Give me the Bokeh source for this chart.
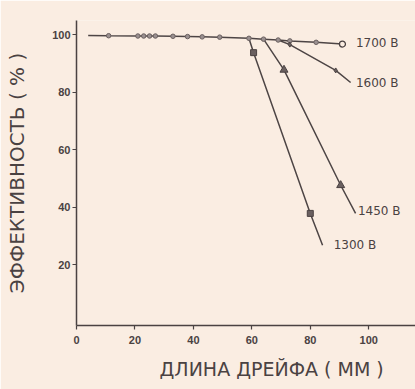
from bokeh.plotting import figure
from bokeh.models import Label, FixedTicker, Range1d, Title
from bokeh.embed import file_html
from bokeh.resources import INLINE

# Drift length (mm) and efficiency (%)
x_1700 = [4, 11, 21, 23, 25, 27, 33, 38, 43, 49, 59, 64, 69, 73, 82, 91]
y_1700 = [99.8, 99.7, 99.6, 99.6, 99.6, 99.6, 99.5, 99.4, 99.3, 99.2, 98.8, 98.5, 98.2, 97.9, 97.4, 96.8]
x_1600 = [69, 73, 88.7, 93.8]
y_1600 = [98.2, 96.6, 87.6, 83.4]
x_1450 = [64, 71, 90.4, 95.5]
y_1450 = [98.5, 87.8, 47.6, 37.8]
x_1300 = [59, 60.6, 80, 84.2]
y_1300 = [98.8, 93.8, 37.8, 26.7]

labels = ["1700 В", "1600 В", "1450 В", "1300 В"]
x_ticks = [0, 20, 40, 60, 80, 100]
y_ticks = [20, 40, 60, 80, 100]

BG = "#faede2"
INK = "#4a4242"
FONT = "Liberation Sans"
TFONT = "DejaVu Sans"

p = figure(width=415, height=389, output_backend="svg", toolbar_location=None,
           x_range=Range1d(0, 116.0), y_range=Range1d(-1.25, 105),
           min_border_left=76, min_border_right=0, min_border_top=20, min_border_bottom=64)
p.background_fill_color = BG
p.border_fill_color = BG
p.outline_line_color = None
p.grid.visible = False

for ax in (p.xaxis[0], p.yaxis[0]):
    ax.axis_line_color = INK
    ax.axis_line_width = 1.5
    ax.major_tick_line_color = INK
    ax.major_tick_line_width = 1.2
    ax.major_tick_in = 0
    ax.major_tick_out = 4
    ax.minor_tick_line_color = None
    ax.major_label_text_font = FONT
    ax.major_label_text_font_size = "11px"
    ax.major_label_text_color = INK
    ax.major_label_text_font_style = "bold"
p.xaxis.ticker = FixedTicker(ticks=x_ticks)
p.yaxis.ticker = FixedTicker(ticks=y_ticks)
p.xaxis.major_label_standoff = 6
p.yaxis.major_label_standoff = 2

p.yaxis.axis_label = "ЭФФЕКТИВНОСТЬ ( % )"
p.yaxis.axis_label_text_font = TFONT
p.yaxis.axis_label_text_font_size = "20px"
p.yaxis.axis_label_text_font_style = "normal"
p.yaxis.axis_label_text_color = INK
p.yaxis.axis_label_standoff = 20

xt = Title(text="ДЛИНА ДРЕЙФА ( ММ )", align="left", offset=83, standoff=18,
           text_font=TFONT, text_font_size="19px", text_font_style="normal", text_color=INK)
p.add_layout(xt, "below")

lc = "#4d4545"
p.line(x_1700, y_1700, line_color=lc, line_width=1.5)
p.line(x_1600, y_1600, line_color=lc, line_width=1.5)
p.line(x_1450, y_1450, line_color=lc, line_width=1.5)
p.line(x_1300, y_1300, line_color=lc, line_width=1.5)

# markers
p.scatter(x_1700[1:-1], y_1700[1:-1], size=4.5, marker="circle", line_color="#6a6060", fill_color="#9a9090", line_width=1)
p.scatter(x_1700[-1:], y_1700[-1:], size=6, marker="circle", line_color=INK, fill_color=BG, line_width=1.3)
p.scatter(x_1600[1:3], y_1600[1:3], size=5, marker="diamond", line_color=INK, fill_color="#6a6060")
p.scatter(x_1450[1:3], y_1450[1:3], size=8, marker="triangle", line_color=INK, fill_color="#6a6060")
p.scatter(x_1300[1:3], y_1300[1:3], size=6, marker="square", line_color=INK, fill_color="#6a6060")

lab_pos = [(95.6, 97.0), (95.6, 83.4), (96.3, 38.5), (88.0, 26.7)]
for t, (lx, ly) in zip(labels, lab_pos):
    p.add_layout(Label(x=lx, y=ly, text=t, text_font=TFONT, text_font_size="12px",
                       text_color=INK, text_align="left", text_baseline="middle"))

open("out.html", "w").write(file_html(p, INLINE))
